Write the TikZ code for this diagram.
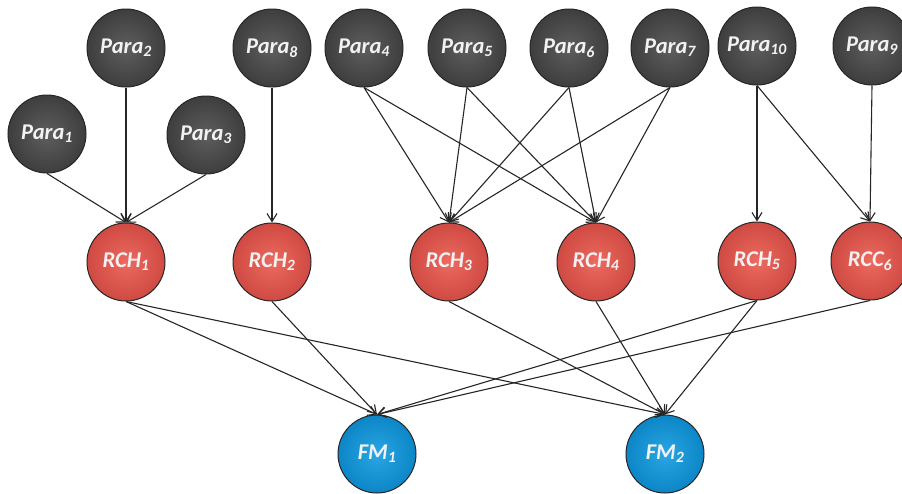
\documentclass[tikz,border=0pt]{standalone}
\usepackage{fontspec}
\setmainfont{Carlito}
\usetikzlibrary{arrows.meta}
\definecolor{gin}{HTML}{5E5E5E}
\definecolor{gout}{HTML}{3E3E3E}
\definecolor{rin}{HTML}{EC6A60}
\definecolor{rout}{HTML}{CF4A42}
\definecolor{bin}{HTML}{2AA6E4}
\definecolor{bout}{HTML}{0C86C6}
\tikzset{
  ball/.style={circle, minimum size=78pt, inner sep=0pt, draw=black!85, line width=1pt,
    text=white!95!black, font=\fontsize{22.5}{25}\selectfont\bfseries\itshape},
  para/.style={ball, shading=radial, inner color=gin, outer color=gout},
  rch/.style={ball, shading=radial, inner color=rin, outer color=rout},
  fm/.style={ball, shading=radial, inner color=bin, outer color=bout},
  link/.style={draw=black!85, line width=1.1pt, -{Straight Barb[length=8pt,width=10pt]}}
}
\newcommand{\sbx}[1]{\textsubscript{#1}}
\begin{document}
\begin{tikzpicture}[x=1pt,y=-1pt]
\useasboundingbox (0,0) rectangle (902,493);
% parameters
\node[para] (p1) at (47,134) {Para\sbx{1}};
\node[para] (p2) at (126,48) {Para\sbx{2}};
\node[para] (p3) at (206,135) {Para\sbx{3}};
\node[para] (p8) at (272,48) {Para\sbx{8}};
\node[para] (p4) at (364,48) {Para\sbx{4}};
\node[para] (p5) at (467,48) {Para\sbx{5}};
\node[para] (p6) at (569,48) {Para\sbx{6}};
\node[para] (p7) at (670,48) {Para\sbx{7}};
\node[para] (p10) at (757,46) {Para\sbx{10}};
\node[para] (p9) at (872,46) {Para\sbx{9}};
% RCH row
\node[rch] (r1) at (126,262) {RCH\sbx{1}};
\node[rch] (r2) at (272,262) {RCH\sbx{2}};
\node[rch] (r3) at (449,262) {RCH\sbx{3}};
\node[rch] (r4) at (596,262) {RCH\sbx{4}};
\node[rch] (r5) at (757,261) {RCH\sbx{5}};
\node[rch] (r6) at (870,261) {RCC\sbx{6}};
% FM row
\node[fm] (f1) at (377,454) {FM\sbx{1}};
\node[fm] (f2) at (665,454) {FM\sbx{2}};
% links
\foreach \s/\t in {p1/r1,p2/r1,p3/r1,p8/r2,p4/r3,p4/r4,p5/r3,p5/r4,p6/r3,p6/r4,p7/r3,p7/r4,p10/r5,p10/r6,p9/r6,
                   r1/f1,r1/f2,r2/f1,r3/f2,r4/f2,r5/f1,r5/f2,r6/f1}
  \draw[link] (\s.south) -- (\t.north);
\end{tikzpicture}
\end{document}
